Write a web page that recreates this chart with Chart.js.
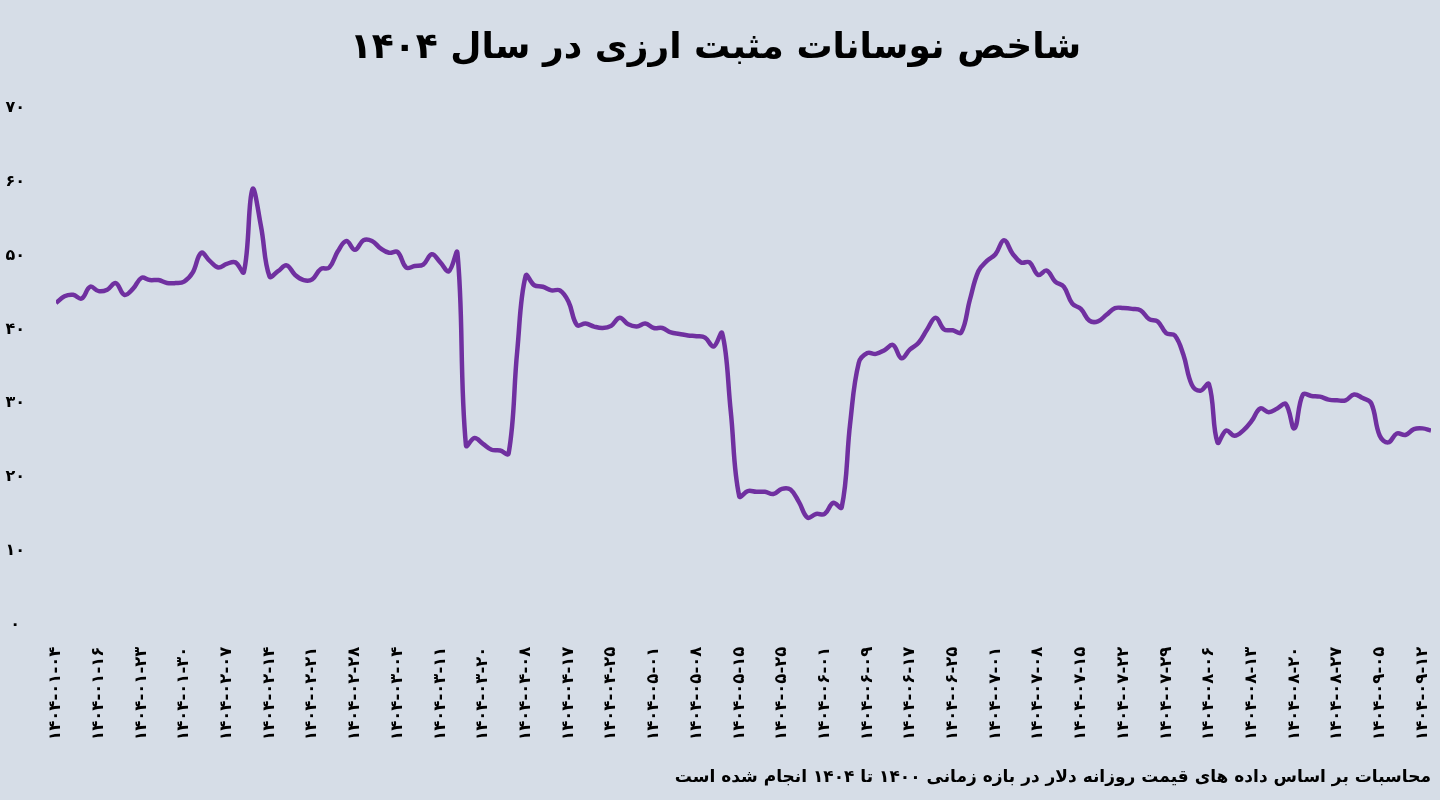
<!DOCTYPE html>
<html lang="fa">
<head>
<meta charset="UTF-8">
<title>شاخص نوسانات مثبت ارزی در سال ۱۴۰۴</title>
<script src="https://cdn.jsdelivr.net/npm/chart.js@4.4.1/dist/chart.umd.min.js"></script>
<style>
    body {
        margin: 0;
        background: #d6dde7;
    }
    .wrap {
        width: 1440px;
        height: 800px;
    }
</style>
</head>
<body>
<div class="wrap"><canvas id="fxChart"></canvas></div>
<script>
const titleText = 'شاخص نوسانات مثبت ارزی در سال ۱۴۰۴';
const noteText = 'محاسبات بر اساس داده های قیمت روزانه دلار در بازه زمانی ۱۴۰۰ تا ۱۴۰۴ انجام شده است';

// one label every 5 trading days
const labelStep = 5;
const dateLabels = [
    '۱۴۰۴-۰۱-۰۴', '۱۴۰۴-۰۱-۱۶', '۱۴۰۴-۰۱-۲۳', '۱۴۰۴-۰۱-۳۰', '۱۴۰۴-۰۲-۰۷',
    '۱۴۰۴-۰۲-۱۴', '۱۴۰۴-۰۲-۲۱', '۱۴۰۴-۰۲-۲۸', '۱۴۰۴-۰۳-۰۴', '۱۴۰۴-۰۳-۱۱',
    '۱۴۰۴-۰۳-۲۰', '۱۴۰۴-۰۴-۰۸', '۱۴۰۴-۰۴-۱۷', '۱۴۰۴-۰۴-۲۵', '۱۴۰۴-۰۵-۰۱',
    '۱۴۰۴-۰۵-۰۸', '۱۴۰۴-۰۵-۱۵', '۱۴۰۴-۰۵-۲۵', '۱۴۰۴-۰۶-۰۱', '۱۴۰۴-۰۶-۰۹',
    '۱۴۰۴-۰۶-۱۷', '۱۴۰۴-۰۶-۲۵', '۱۴۰۴-۰۷-۰۱', '۱۴۰۴-۰۷-۰۸', '۱۴۰۴-۰۷-۱۵',
    '۱۴۰۴-۰۷-۲۲', '۱۴۰۴-۰۷-۲۹', '۱۴۰۴-۰۸-۰۶', '۱۴۰۴-۰۸-۱۳', '۱۴۰۴-۰۸-۲۰',
    '۱۴۰۴-۰۸-۲۷', '۱۴۰۴-۰۹-۰۵', '۱۴۰۴-۰۹-۱۲'
];

const yTickLabels = ['۰', '۱۰', '۲۰', '۳۰', '۴۰', '۵۰', '۶۰', '۷۰'];

// daily index values
const indexValues = [
    43.6, 44.5, 44.7, 44.2, 45.8, 45.2, 45.4, 46.3, 44.7, 45.5,
    47.0, 46.7, 46.7, 46.3, 46.3, 46.5, 47.7, 50.4, 49.3, 48.4,
    48.9, 49.1, 47.8, 59.0, 54.0, 47.2, 47.9, 48.7, 47.4, 46.7,
    46.8, 48.2, 48.4, 50.6, 52.0, 50.8, 52.1, 52.0, 51.0, 50.4,
    50.5, 48.4, 48.6, 48.8, 50.2, 49.1, 47.9, 50.4, 24.3, 25.3,
    24.5, 23.7, 23.6, 23.2, 37.0, 47.3, 46.0, 45.8, 45.3, 45.3,
    43.8, 40.6, 40.8, 40.4, 40.2, 40.5, 41.6, 40.7, 40.4, 40.8,
    40.2, 40.2, 39.6, 39.4, 39.2, 39.1, 38.9, 37.7, 39.5, 29.0,
    17.4, 18.1, 18.0, 18.0, 17.7, 18.4, 18.3, 16.6, 14.5, 15.0,
    15.0, 16.5, 15.9, 27.4, 35.5, 36.8, 36.7, 37.2, 37.9, 36.1,
    37.3, 38.2, 40.0, 41.6, 40.0, 39.9, 39.6, 44.0, 47.9, 49.3,
    50.2, 52.1, 50.3, 49.1, 49.1, 47.4, 48.0, 46.5, 45.8, 43.5,
    42.8, 41.2, 41.1, 42.0, 42.9, 42.9, 42.8, 42.6, 41.4, 41.1,
    39.5, 39.2, 36.6, 32.5, 31.7, 32.6, 24.7, 26.3, 25.6, 26.3,
    27.6, 29.3, 28.8, 29.3, 29.9, 26.6, 31.2, 31.0, 30.9, 30.5,
    30.4, 30.4, 31.2, 30.7, 30.0, 25.6, 24.7, 25.9, 25.7, 26.5,
    26.6, 26.3
];

const fontFamily = '"DejaVu Sans", sans-serif';

const ctx = document.getElementById('fxChart').getContext('2d');
const fxChart = new Chart(ctx, {
    type: 'line',
    data: {
        datasets: [{
            data: indexValues.map((v, i) => ({ x: i, y: v })),
            borderColor: '#7030a0',
            borderWidth: 4.5,
            pointRadius: 0,
            tension: 0.4,
            fill: false
        }]
    },
    options: {
        responsive: true,
        maintainAspectRatio: false,
        animation: false,
        layout: {
            padding: { left: 0, right: 9, top: 0, bottom: 0 }
        },
        plugins: {
            legend: { display: false },
            tooltip: { enabled: false },
            title: {
                display: true,
                text: titleText,
                color: '#000',
                font: { family: fontFamily, size: 36, weight: 'bold' },
                padding: { top: 27, bottom: 38 }
            },
            subtitle: {
                display: true,
                position: 'bottom',
                align: 'end',
                text: noteText,
                color: '#000',
                font: { family: fontFamily, size: 17, weight: 'bold' },
                padding: { top: 30, bottom: 12 }
            }
        },
        scales: {
            x: {
                type: 'linear',
                min: 0,
                max: indexValues.length - 1,
                grid: { display: false, drawTicks: false },
                border: { display: false },
                afterBuildTicks: (scale) => {
                    scale.ticks = dateLabels.map((_, i) => ({ value: i * labelStep }));
                },
                afterFit: (scale) => {
                    scale.height = 113;
                    scale.paddingLeft = 0;
                    scale.paddingRight = 0;
                },
                ticks: {
                    autoSkip: false,
                    minRotation: 90,
                    maxRotation: 90,
                    padding: 22,
                    color: '#000',
                    font: { family: fontFamily, size: 16.5, weight: 'bold' },
                    callback: (value) => dateLabels[value / labelStep]
                }
            },
            y: {
                min: 0,
                max: 70,
                grid: { display: false, drawTicks: false },
                border: { display: false },
                afterFit: (scale) => { scale.width = 56; },
                ticks: {
                    stepSize: 10,
                    crossAlign: 'center',
                    padding: 31,
                    color: '#000',
                    font: { family: fontFamily, size: 16, weight: 'bold' },
                    callback: (value) => yTickLabels[value / 10]
                }
            }
        }
    }
});
</script>
</body>
</html>
